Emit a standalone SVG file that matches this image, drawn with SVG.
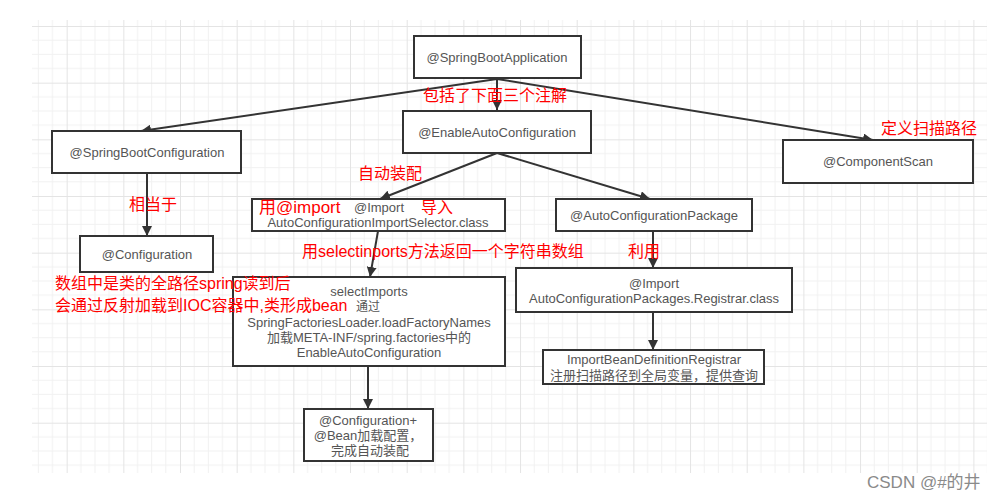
<svg xmlns="http://www.w3.org/2000/svg" width="1006" height="500" viewBox="0 0 1006 500">
<style>
.box{fill:#fff;stroke:#333;stroke-width:2}
.t{font-family:"Liberation Sans","Noto Sans CJK SC",sans-serif;font-size:13px;fill:#555;text-anchor:middle}
.r{font-family:"Liberation Sans","Noto Sans CJK SC",sans-serif;font-size:16px;fill:#ff0000}
.c{fill:none;stroke:#333;stroke-width:2}
</style>
<defs>
<pattern id="grid" patternUnits="userSpaceOnUse" x="10" y="26" width="56.67" height="56.67">
<path d="M14.17 0V56.67M28.33 0V56.67M42.5 0V56.67M0 14.17H56.67M0 28.33H56.67M0 42.5H56.67" stroke="#f1f1f1" stroke-width="1" fill="none"/>
<path d="M0.5 0V56.67M0 0.5H56.67" stroke="#e4e4e4" stroke-width="1" fill="none"/>
</pattern>
<marker id="arr" viewBox="0 0 10 10" refX="10" refY="5" markerWidth="5" markerHeight="5" orient="auto" markerUnits="strokeWidth">
<path d="M0 0L10 5L0 10z" fill="#333"/>
</marker>
</defs>
<rect width="1006" height="500" fill="#fff"/>
<rect x="32" y="20" width="955" height="453" fill="url(#grid)"/>

<g id="connectors">
<line class="c" x1="497" y1="79" x2="141" y2="131" marker-end="url(#arr)"/>
<line class="c" x1="497" y1="79" x2="497" y2="110" marker-end="url(#arr)"/>
<line class="c" x1="497" y1="79" x2="873" y2="140" marker-end="url(#arr)"/>
<line class="c" x1="497" y1="153" x2="380" y2="199" marker-end="url(#arr)"/>
<line class="c" x1="497" y1="153" x2="650" y2="199" marker-end="url(#arr)"/>
<line class="c" x1="147" y1="173" x2="147" y2="236" marker-end="url(#arr)"/>
<line class="c" x1="378" y1="231" x2="370" y2="277" marker-end="url(#arr)"/>
<line class="c" x1="368" y1="366" x2="368" y2="409" marker-end="url(#arr)"/>
<line class="c" x1="653" y1="231" x2="653" y2="268" marker-end="url(#arr)"/>
<line class="c" x1="653" y1="312" x2="653" y2="350" marker-end="url(#arr)"/>
</g>

<g id="springBootApplication">
<rect class="box" x="414" y="36" width="167" height="42"/>
<text class="t" x="497" y="62">@SpringBootApplication</text>
</g>
<g id="enableAutoConfiguration">
<rect class="box" x="403" y="111" width="188" height="42"/>
<text class="t" x="497" y="137">@EnableAutoConfiguration</text>
</g>
<g id="springBootConfiguration">
<rect class="box" x="52" y="131" width="189" height="42"/>
<text class="t" x="147" y="157">@SpringBootConfiguration</text>
</g>
<g id="componentScan">
<rect class="box" x="783" y="140" width="190" height="43"/>
<text class="t" x="878" y="166">@ComponentScan</text>
</g>
<g id="configuration">
<rect class="box" x="80" y="236" width="133" height="36"/>
<text class="t" x="147" y="259">@Configuration</text>
</g>
<g id="importSelector">
<rect class="box" x="252" y="199" width="253" height="32"/>
<text class="t" x="379" y="212">@Import</text>
<text class="t" x="378" y="227">AutoConfigurationImportSelector.class</text>
</g>
<g id="autoConfigurationPackage">
<rect class="box" x="556" y="199" width="196" height="32"/>
<text class="t" x="654" y="220">@AutoConfigurationPackage</text>
</g>
<g id="selectImports">
<rect class="box" x="233" y="277" width="272" height="89"/>
<text class="t" x="369" y="296">selectImports</text>
<text class="t" x="368" y="311" style="font-size:12px">通过</text>
<text class="t" x="369" y="327">SpringFactoriesLoader.loadFactoryNames</text>
<text class="t" x="369" y="342">加载META-INF/spring.factories中的</text>
<text class="t" x="369" y="357">EnableAutoConfiguration</text>
</g>
<g id="configurationBean">
<rect class="box" x="304" y="409" width="129" height="52"/>
<text class="t" x="368" y="425">@Configuration+</text>
<text class="t" x="368" y="440">@Bean加载配置，</text>
<text class="t" x="370" y="455">完成自动装配</text>
</g>
<g id="registrar">
<rect class="box" x="516" y="268" width="276" height="44"/>
<text class="t" x="654" y="288">@Import</text>
<text class="t" x="654" y="303">AutoConfigurationPackages.Registrar.class</text>
</g>
<g id="importBeanDefinitionRegistrar">
<rect class="box" x="543" y="350" width="221" height="34"/>
<text class="t" x="654" y="364">ImportBeanDefinitionRegistrar</text>
<text class="t" x="654" y="380">注册扫描路径到全局变量，提供查询</text>
</g>

<g id="labels">
<text class="r" x="423" y="101">包括了下面三个注解</text>
<text class="r" x="881" y="134">定义扫描路径</text>
<text class="r" x="358" y="179">自动装配</text>
<text class="r" x="129" y="210">相当于</text>
<text class="r" x="259" y="213" style="font-size:17px">用@import</text>
<text class="r" x="421" y="213">导入</text>
<text class="r" x="302" y="257">用selectinports方法返回一个字符串数组</text>
<text class="r" x="628" y="257">利用</text>
<text class="r" x="55" y="289">数组中是类的全路径spring读到后</text>
<text class="r" x="55" y="311">会通过反射加载到IOC容器中,类形成bean</text>
</g>
<text x="867" y="488" style="font-family:'Liberation Sans','Noto Sans CJK SC',sans-serif;font-size:17px;fill:#8a8a8a">CSDN @#的井</text>
</svg>
